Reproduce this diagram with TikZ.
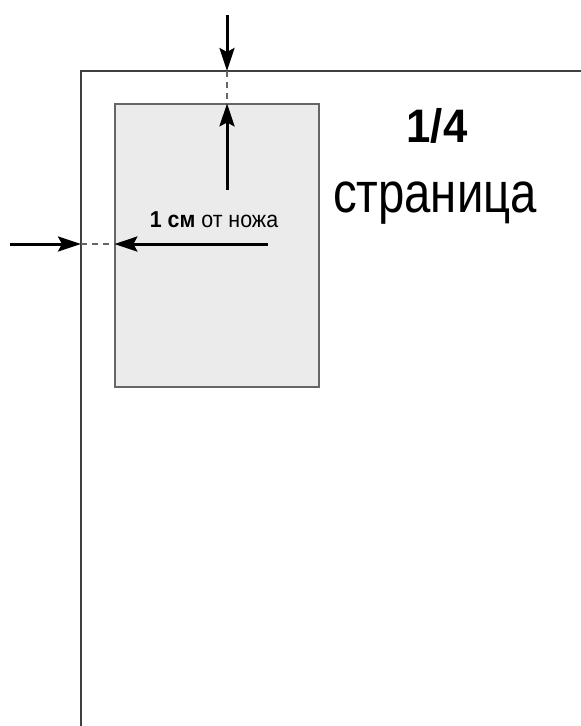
\documentclass[tikz,border=0pt]{standalone}
\usepackage{fontspec}
\setmainfont{Liberation Sans}
\newfontfamily\narrowfont{Liberation Sans}[FakeStretch=0.83]
\newfontfamily\labelfont{Liberation Sans}[FakeStretch=0.93]
\usetikzlibrary{arrows.meta,positioning}

\begin{document}
\begin{tikzpicture}[x=1pt,y=-1pt,
  cut/.style={draw=black!75,line width=1.3pt},
  adbox/.style={draw=black!60,fill=black!8,line width=1.2pt,minimum width=204pt,minimum height=283pt,inner sep=0pt},
  knife/.style={line width=3pt,-{Stealth[length=23pt,width=15pt,inset=4pt]}},
  gap/.style={draw=black!60,line width=1.4pt,dash pattern=on 6pt off 5pt},
  every node/.style={font=\narrowfont}]
\useasboundingbox (0,0) rectangle (581,726);
% page edge
\coordinate (pagebottom) at (81,726);
\coordinate (pagecorner) at (81,71);
\coordinate (pageright) at (581,71);
\draw[cut] (pagebottom) -- (pagecorner) -- (pageright);
% quarter page
\node[adbox] (ad) at (217,245.5) {};
% top margin
\coordinate (topstart) at (227,15);
\coordinate (topcut) at (227,71);
\coordinate (upstart) at (227,190);
\draw[knife] (topstart) -- (topcut);
\draw[gap] (topcut) -- (topcut |- ad.north);
\draw[knife] (upstart) -- (upstart |- ad.north);
% left margin
\coordinate (leftstart) at (10,244);
\coordinate (leftcut) at (81,244);
\coordinate (backstart) at (268,244);
\draw[knife] (leftstart) -- (leftcut);
\draw[gap] (leftcut) -- (leftcut -| ad.west);
\draw[knife] (backstart) -- (backstart -| ad.west);
% labels
\node[anchor=base,font=\labelfont\fontsize{23}{27}\selectfont] (margin) at (214,227) {\textbf{1 см} от ножа};
\node[anchor=base,font=\labelfont\bfseries\fontsize{47}{54}\selectfont] (size) at (437,142) {1/4};
\node[anchor=base,font=\narrowfont\fontsize{57}{63}\selectfont] (page) at (435,212) {страница};
\end{tikzpicture}
\end{document}
